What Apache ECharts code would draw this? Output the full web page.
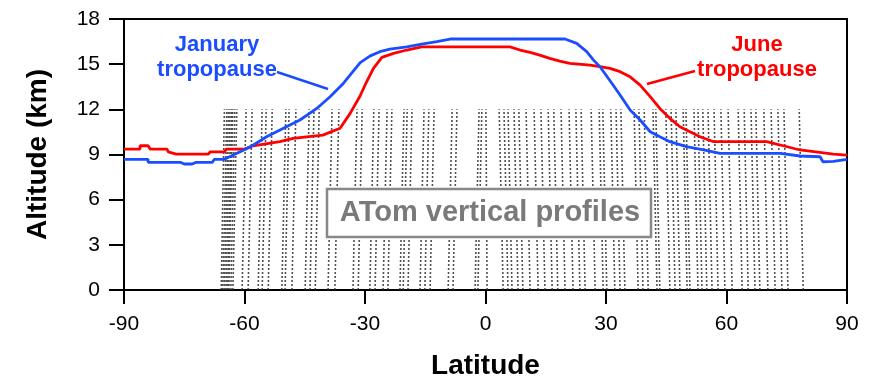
<!DOCTYPE html>
<html>
<head>
<meta charset="utf-8">
<script src="https://cdn.jsdelivr.net/npm/echarts@6/dist/echarts.min.js"></script>
<style>
  html, body { margin: 0; padding: 0; background: #fff; }
  #chart { width: 871px; height: 378px; }
</style>
</head>
<body>
<div id="chart"></div>
<script>
// axis ticks
const xTicks = [-90, -60, -30, 0, 30, 60, 90];
const yTicks = [0, 3, 6, 9, 12, 15, 18];

// January tropopause [latitude, altitude km]
const janTropopause = [
  [-90, 8.68], [-84, 8.68], [-84, 8.48], [-76, 8.48], [-75, 8.37], [-73, 8.37], [-72, 8.48],
  [-68, 8.48], [-67.5, 8.68], [-65, 8.68], [-62.8, 8.96], [-58.6, 9.5], [-54.5, 10.18],
  [-50.3, 10.74], [-46.2, 11.29], [-42, 12.06], [-38.7, 12.84], [-35.4, 13.72], [-31.2, 15.1],
  [-28.7, 15.55], [-26.3, 15.83], [-23.8, 16.0], [-19.6, 16.15], [-15.9, 16.33], [-12.1, 16.49],
  [-8.8, 16.67], [19.8, 16.67], [22.7, 16.38], [25.2, 15.83], [26.9, 15.27], [28.5, 14.83],
  [30.2, 14.2], [31.8, 13.6], [33.5, 12.95], [36, 11.95], [38.5, 11.29], [41, 10.51],
  [43.4, 10.18], [45.9, 9.85], [50, 9.52], [54.3, 9.3], [58.4, 9.07], [73.4, 9.07],
  [78.3, 8.9], [83.3, 8.85], [84, 8.52], [86.6, 8.55], [90, 8.68]
];

// June tropopause [latitude, altitude km]
const junTropopause = [
  [-90, 9.36], [-86, 9.36], [-86, 9.58], [-84, 9.58], [-83.5, 9.36], [-79.3, 9.36], [-79, 9.18],
  [-77, 9.03], [-69, 9.03], [-68.5, 9.18], [-65, 9.18], [-64.5, 9.36], [-60, 9.36],
  [-57.9, 9.58], [-51.2, 9.85], [-47.9, 10.07], [-40.5, 10.29], [-36.2, 10.74], [-33.7, 11.73],
  [-31.2, 12.9], [-29.6, 13.83], [-27.9, 14.72], [-25.8, 15.45], [-22.9, 15.72], [-19.6, 15.94],
  [-15.9, 16.15], [6.1, 16.15], [8.6, 15.94], [11.1, 15.78], [13.5, 15.6], [16, 15.38],
  [18.5, 15.2], [21, 15.05], [26, 14.94], [28.5, 14.83], [31, 14.72], [33.5, 14.5], [36, 14.16],
  [38.5, 13.61], [41, 12.84], [43.4, 12.06], [45.9, 11.4], [48.4, 10.84], [50.9, 10.51],
  [53.4, 10.18], [56.8, 9.85], [70, 9.85], [73.4, 9.63], [78.3, 9.3], [86.6, 9.03], [90, 8.96]
];

// ATom vertical profiles: [latitude at surface, latitude at top]
const profiles = [
  [-65.8, -65.0], [-65.4, -64.4], [-65, -64.0], [-64.6, -63.6], [-64.2, -63.2], [-63.9, -62.9],
  [-63.4, -62.4], [-62.9, -61.9], [-60.6, -59.6], [-59.1, -58.1], [-56.6, -55.6], [-55.6, -54.6],
  [-54.1, -53.1], [-50.7, -49.7], [-49.9, -48.9], [-48.2, -47.2], [-44.9, -43.9], [-43.7, -42.7],
  [-42.4, -41.4], [-39.2, -38.2], [-37.5, -36.5], [-33, -32.0], [-31.7, -30.7], [-28.8, -27.8],
  [-27.5, -26.5], [-25.5, -24.5], [-24.3, -23.3], [-21.3, -20.3], [-20.5, -19.5], [-19.3, -18.3],
  [-16.3, -15.3], [-15.1, -14.1], [-13.8, -12.8], [-9.3, -8.3], [-8.1, -7.1], [-2.6, -1.6],
  [-1.9, -0.9], [0.4, 0.1], [4.4, 3.4], [5.6, 4.6], [6.6, 5.6], [8.1, 7.1], [9.3, 8.3], [11.1, 10.1],
  [13.1, 12.1], [14.8, 13.8], [16.6, 15.6], [18, 17.0], [19.8, 18.8], [21.8, 20.8], [23.5, 22.5],
  [24.8, 23.8], [27.3, 26.3], [29.3, 28.3], [30.2, 29.2], [32.2, 31.2], [33.5, 32.5], [34.7, 33.7],
  [38, 37.0], [39.2, 38.2], [40.5, 39.5], [42.7, 41.7], [43.4, 42.4], [45.9, 44.9], [47.2, 46.2],
  [48.4, 47.4], [50.2, 49.2], [50.9, 49.9], [52.9, 51.9], [53.9, 52.9], [55.1, 54.1],
  [56.4, 55.4], [57.9, 56.9], [59.6, 58.6], [61.4, 60.4], [63.9, 62.9], [65.4, 64.4], [67.1, 66.1],
  [68.3, 67.3], [70.3, 69.3], [72.1, 71.1], [73.8, 72.8], [75.3, 74.3], [79.1, 78.1]
];
const profileTop = 12;

const chart = echarts.init(document.getElementById('chart'));
const font = 'Liberation Sans, Arial, sans-serif';

chart.setOption({
  animation: false,
  backgroundColor: '#ffffff',
  grid: {
    left: 124, right: 24, top: 19, bottom: 88,
    outerBoundsMode: 'none', containLabel: false,
    show: true, borderColor: '#000', borderWidth: 2
  },
  xAxis: {
    type: 'value', min: -90, max: 90, interval: 30,
    name: 'Latitude', nameLocation: 'middle', nameGap: 62,
    nameTextStyle: { fontFamily: font, fontWeight: 'bold', fontSize: 28, color: '#000' },
    axisLine: { onZero: false, lineStyle: { color: '#000', width: 2 } },
    axisTick: { length: 14, lineStyle: { color: '#000', width: 2 } },
    axisLabel: { margin: 24, fontFamily: font, fontSize: 21, color: '#000' },
    splitLine: { show: false }
  },
  yAxis: {
    type: 'value', min: 0, max: 18, interval: 3,
    name: 'Altitude (km)', nameLocation: 'middle', nameGap: 72,
    nameTextStyle: { fontFamily: font, fontWeight: 'bold', fontSize: 28, color: '#000' },
    axisLine: { onZero: false, lineStyle: { color: '#000', width: 2 } },
    axisTick: { length: 15, lineStyle: { color: '#000', width: 2 } },
    axisLabel: { margin: 24, fontFamily: font, fontSize: 21, color: '#000' },
    splitLine: { show: false }
  },
  series: [
    {
      name: 'ATom profiles',
      type: 'lines',
      coordinateSystem: 'cartesian2d',
      silent: true,
      z: 1,
      lineStyle: { color: '#333', width: 1.6, type: [2, 2], opacity: 0.85 },
      data: profiles.map(p => ({ coords: [[p[0], 0], [p[1], profileTop]] }))
    },
    {
      name: 'June tropopause',
      type: 'line',
      data: junTropopause,
      showSymbol: false,
      z: 3,
      lineStyle: { color: '#ff0000', width: 2.8 }
    },
    {
      name: 'January tropopause',
      type: 'line',
      data: janTropopause,
      showSymbol: false,
      z: 4,
      lineStyle: { color: '#1a4dff', width: 2.8 }
    }
  ],
  graphic: [
    {
      type: 'rect', z: 10,
      shape: { x: 327, y: 189, width: 324, height: 48 },
      style: { fill: '#fff', stroke: '#888', lineWidth: 2.5 }
    },
    {
      type: 'text', z: 11, x: 490, y: 213,
      style: {
        text: 'ATom vertical profiles', fill: '#7a7a7a',
        font: 'bold 29px ' + font, textAlign: 'center', textVerticalAlign: 'middle'
      }
    },
    {
      type: 'text', z: 11, x: 217, y: 57,
      style: {
        text: 'January\ntropopause', fill: '#1a4dff', lineHeight: 25,
        font: 'bold 22px ' + font, textAlign: 'center', textVerticalAlign: 'middle'
      }
    },
    {
      type: 'line', z: 11,
      shape: { x1: 277, y1: 72, x2: 328, y2: 89 },
      style: { stroke: '#1a4dff', lineWidth: 2.5 }
    },
    {
      type: 'text', z: 11, x: 757, y: 57,
      style: {
        text: 'June\ntropopause', fill: '#ff0000', lineHeight: 25,
        font: 'bold 22px ' + font, textAlign: 'center', textVerticalAlign: 'middle'
      }
    },
    {
      type: 'line', z: 11,
      shape: { x1: 647, y1: 84, x2: 695, y2: 71 },
      style: { stroke: '#ff0000', lineWidth: 2.5 }
    }
  ]
});
</script>
</body>
</html>
